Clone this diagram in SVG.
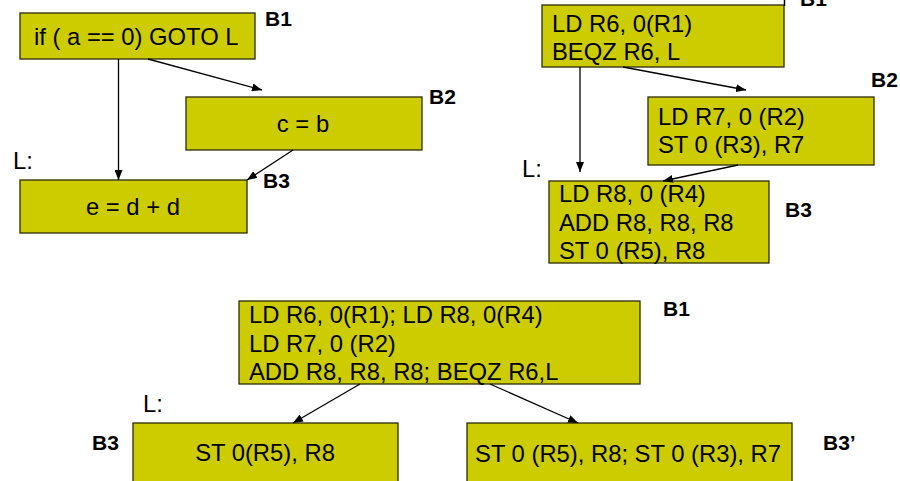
<svg xmlns="http://www.w3.org/2000/svg" width="900" height="481" viewBox="0 0 900 481">
  <style>
    .blk { fill: #cccc00; stroke: #2b2b00; stroke-width: 1.3; }
    .t { font-family: "Liberation Sans", Arial, sans-serif; font-size: 23.8px; fill: #000; }
    .lbl { font-family: "Liberation Sans", Arial, sans-serif; font-size: 21px; font-weight: bold; fill: #000; }
    .edge { stroke: #000; stroke-width: 1.3; fill: none; marker-end: url(#arrow); }
  </style>
  <defs>
    <marker id="arrow" markerUnits="userSpaceOnUse" markerWidth="10" markerHeight="8" refX="10" refY="4" orient="auto">
      <path d="M0,0 L10,4 L0,8 z" fill="#000"/>
    </marker>
  </defs>

  <!-- Top-left: source-level flow graph -->
  <g id="src-b1">
    <rect class="blk" x="20" y="13" width="235" height="46"/>
    <text class="t" x="34" y="45">if ( a == 0) GOTO L</text>
    <text class="lbl" x="265" y="26">B1</text>
  </g>
  <g id="src-b2">
    <rect class="blk" x="186" y="97" width="236" height="53"/>
    <text class="t" x="303" y="132" text-anchor="middle">c = b</text>
    <text class="lbl" x="429" y="104">B2</text>
  </g>
  <g id="src-b3">
    <text class="t" x="13" y="169">L:</text>
    <rect class="blk" x="20" y="180" width="227" height="53"/>
    <text class="t" x="133" y="215" text-anchor="middle">e = d + d</text>
    <text class="lbl" x="263" y="188">B3</text>
  </g>

  <!-- Top-right: machine-level flow graph -->
  <g id="asm-b1">
    <rect class="blk" x="542" y="5" width="242" height="62"/>
    <line x1="784.5" y1="0" x2="784.5" y2="6" stroke="#000" stroke-width="1.5"/>
    <text class="t" x="552" y="32">LD R6, 0(R1)</text>
    <text class="t" x="552" y="60">BEQZ R6, L</text>
    <text class="lbl" x="800" y="6">B1</text>
  </g>
  <g id="asm-b2">
    <rect class="blk" x="648" y="97" width="226" height="68"/>
    <text class="t" x="658" y="125">LD R7, 0 (R2)</text>
    <text class="t" x="658" y="153">ST 0 (R3), R7</text>
    <text class="lbl" x="871" y="87">B2</text>
  </g>
  <g id="asm-b3">
    <text class="t" x="522" y="177">L:</text>
    <rect class="blk" x="549" y="181" width="220" height="82"/>
    <text class="t" x="559" y="202">LD R8, 0 (R4)</text>
    <text class="t" x="559" y="231">ADD R8, R8, R8</text>
    <text class="t" x="559" y="259">ST 0 (R5), R8</text>
    <text class="lbl" x="785" y="217">B3</text>
  </g>

  <!-- Bottom: scheduled flow graph -->
  <g id="sched-b1">
    <rect class="blk" x="239" y="301" width="401" height="83"/>
    <text class="t" x="249" y="323">LD R6, 0(R1); LD R8, 0(R4)</text>
    <text class="t" x="249" y="352">LD R7, 0 (R2)</text>
    <text class="t" x="249" y="380">ADD R8, R8, R8; BEQZ R6,L</text>
    <text class="lbl" x="663" y="316">B1</text>
  </g>
  <g id="sched-b3">
    <text class="t" x="143" y="412">L:</text>
    <rect class="blk" x="133" y="423" width="265" height="70"/>
    <text class="t" x="265" y="461" text-anchor="middle">ST 0(R5), R8</text>
    <text class="lbl" x="92" y="450">B3</text>
  </g>
  <g id="sched-b3p">
    <rect class="blk" x="467" y="423" width="325" height="70"/>
    <text class="t" x="628" y="462" text-anchor="middle">ST 0 (R5), R8; ST 0 (R3), R7</text>
    <text class="lbl" x="823" y="450">B3’</text>
  </g>

  <g id="connectors">
    <line class="edge" x1="118.5" y1="59" x2="118.5" y2="180"/>
    <line class="edge" x1="148" y1="59" x2="262" y2="90"/>
    <line class="edge" x1="293" y1="150" x2="247" y2="180"/>
    <line class="edge" x1="580" y1="67" x2="580" y2="172"/>
    <line class="edge" x1="623" y1="67" x2="746" y2="90"/>
    <line class="edge" x1="738" y1="165" x2="663" y2="181"/>
    <line class="edge" x1="360" y1="384" x2="293" y2="423"/>
    <line class="edge" x1="490" y1="384" x2="578" y2="423"/>
  </g>
</svg>
